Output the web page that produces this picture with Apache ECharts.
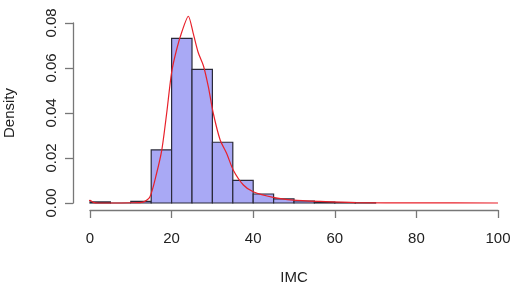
<!DOCTYPE html>
<html>
<head>
<meta charset="utf-8">
<script src="https://cdn.jsdelivr.net/npm/echarts@6/dist/echarts.min.js"></script>
<style>
  html, body { margin: 0; padding: 0; background: #fff; }
  #main { width: 520px; height: 284px; }
</style>
</head>
<body>
<div id="main"></div>
<script>
/*********** histogram data (bin width 5) ***********/
var binStart = [0, 5, 10, 15, 20, 25, 30, 35, 40, 45, 50, 55, 60, 65];
var binDensity = [0.0005, 0, 0.0007, 0.0236, 0.0732, 0.0594, 0.027, 0.0101, 0.004, 0.0018, 0.0009, 0.0004, 0.0002, 0.0001];
var binWidth = 5;

/*********** density curve ***********/
var curveX = [-1.2, 0, 0.8, 2, 5, 10, 13, 14.7, 16.3, 17.6, 18.8, 20, 21.2, 22.5, 24.1, 25.3, 26.5, 27.8, 29, 30.2, 31.9, 33.5, 35.1, 37.6, 40, 44.9, 49.8, 56.4, 65, 80, 100];
var curveY = [0, 0.0012, 0.0003, 0, 0, 0.0001, 0.0004, 0.0028, 0.013, 0.0236, 0.04, 0.058, 0.068, 0.076, 0.083, 0.0754, 0.067, 0.061, 0.0517, 0.04, 0.028, 0.022, 0.0147, 0.008, 0.005, 0.0025, 0.0013, 0.0007, 0.0002, 0.00005, 0];

var xTicks = [0, 20, 40, 60, 80, 100];
var yTicks = [0, 0.02, 0.04, 0.06, 0.08];

var histData = [];
for (var i = 0; i < binStart.length; i++) {
  histData.push([binStart[i], binStart[i] + binWidth, binDensity[i]]);
}
var curveData = [];
for (var j = 0; j < curveX.length; j++) {
  curveData.push([curveX[j], curveY[j]]);
}

var font = 'Liberation Sans, Arial, sans-serif';
var myChart = echarts.init(document.getElementById('main'), null, { renderer: 'canvas' });

var option = {
  animation: false,
  backgroundColor: '#fff',
  grid: { left: 90, right: 22, top: 23, bottom: 81, containLabel: false, outerBoundsMode: 'none' },
  xAxis: {
    type: 'value',
    min: xTicks[0], max: xTicks[xTicks.length - 1], interval: 20,
    offset: 7,
    name: 'IMC',
    nameLocation: 'middle',
    nameGap: 60,
    nameTextStyle: { fontFamily: font, fontSize: 15, color: '#222' },
    axisLine: { show: true, onZero: false, lineStyle: { color: '#777', width: 1.3 } },
    axisTick: { show: true, length: 8, lineStyle: { color: '#777', width: 1.3 } },
    axisLabel: { fontFamily: font, fontSize: 15, color: '#222', margin: 21 },
    splitLine: { show: false }
  },
  yAxis: {
    type: 'value',
    min: yTicks[0], max: yTicks[yTicks.length - 1], interval: 0.02,
    offset: 17,
    name: 'Density',
    nameLocation: 'middle',
    nameGap: 56,
    nameTextStyle: { fontFamily: font, fontSize: 15, color: '#222' },
    axisLine: { show: true, onZero: false, lineStyle: { color: '#777', width: 1.3 } },
    axisTick: { show: true, length: 8, lineStyle: { color: '#777', width: 1.3 } },
    axisLabel: {
      fontFamily: font, fontSize: 15, color: '#222', margin: 14, rotate: 90,
      formatter: function (v) { return v.toFixed(2); }
    },
    splitLine: { show: false }
  },
  series: [
    {
      type: 'custom',
      data: histData,
      encode: { x: [0, 1], y: 2 },
      clip: false,
      renderItem: function (params, api) {
        var p0 = api.coord([api.value(0), api.value(2)]);
        var p1 = api.coord([api.value(1), 0]);
        return {
          type: 'rect',
          shape: { x: p0[0], y: p0[1], width: p1[0] - p0[0], height: p1[1] - p0[1] },
          style: { fill: '#a9a9f5', stroke: '#2a2a3a', lineWidth: 1.2 }
        };
      }
    },
    {
      type: 'line',
      data: curveData,
      smooth: 0.25,
      symbol: 'none',
      clip: false,
      lineStyle: { color: '#e8202a', width: 1.2 }
    }
  ]
};

myChart.setOption(option);
</script>
</body>
</html>
